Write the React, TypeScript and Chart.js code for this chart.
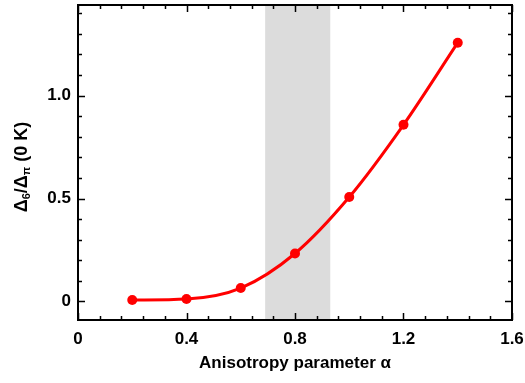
import React, { useEffect, useRef } from "react";
import { Chart, registerables } from "chart.js";
Chart.register(...registerables);

const alphaValues = [0.2, 0.4, 0.6, 0.8, 1.0, 1.2, 1.4];
const gapRatio = [0.007, 0.012, 0.065, 0.233, 0.507, 0.858, 1.257];
const xTickValues = [0, 0.4, 0.8, 1.2, 1.6];
const xTickLabels = ["0", "0.4", "0.8", "1.2", "1.6"];
const yTickValues = [0, 0.5, 1.0];
const yTickLabels = ["0", "0.5", "1.0"];
const xMinorStep = 0.08;
const yMinorStep = 0.1;
const shadeRange = [0.69, 0.93];
const xRange = [0, 1.6];
const yRange = [-0.09, 1.44];

const FONT = "'Liberation Sans', Arial, sans-serif";

const framePlugin = {
  id: "frameTicks",
  beforeDatasetsDraw(chart: any) {
    const { ctx, chartArea, scales } = chart;
    const x = scales.x;
    const x0 = x.getPixelForValue(shadeRange[0]);
    const x1 = x.getPixelForValue(shadeRange[1]);
    ctx.save();
    ctx.fillStyle = "#dcdcdc";
    ctx.fillRect(x0, chartArea.top, x1 - x0, chartArea.bottom - chartArea.top);
    ctx.restore();
  },
  afterDatasetsDraw(chart: any) {
    const { ctx, chartArea, scales } = chart;
    const { left, right, top, bottom } = chartArea;
    const xs = scales.x;
    const ys = scales.y;
    ctx.save();
    ctx.strokeStyle = "#000";
    ctx.lineWidth = 1.5;
    ctx.beginPath();
    const nx = Math.round((xRange[1] - xRange[0]) / xMinorStep);
    for (let i = 0; i <= nx; i++) {
      const v = xRange[0] + i * xMinorStep;
      const px = Math.round(xs.getPixelForValue(v)) + 0.5;
      const major = i % 5 === 0;
      const len = major ? 7 : 4;
      ctx.moveTo(px, bottom);
      ctx.lineTo(px, bottom - len);
      ctx.moveTo(px, top);
      ctx.lineTo(px, top + len);
    }
    const ny = Math.round(1.4 / yMinorStep);
    for (let i = 0; i <= ny; i++) {
      const v = i * yMinorStep;
      const py = Math.round(ys.getPixelForValue(v)) + 0.5;
      const major = i % 5 === 0;
      const len = major ? 7 : 4;
      ctx.moveTo(left, py);
      ctx.lineTo(left + len, py);
      ctx.moveTo(right, py);
      ctx.lineTo(right - len, py);
    }
    ctx.stroke();
    ctx.lineWidth = 2;
    ctx.strokeRect(left, top, right - left, bottom - top);

    ctx.translate(22, 167);
    ctx.rotate(-Math.PI / 2);
    ctx.fillStyle = "#000";
    ctx.textBaseline = "middle";
    ctx.textAlign = "left";
    const big = `bold 18px ${FONT}`;
    const small = `bold 11px ${FONT}`;
    const parts: [string, string, number][] = [
      ["\u0394", big, 0],
      ["6", small, 5],
      ["/\u0394", big, 0],
      ["\u03c0", small, 5],
      [" (0 K)", big, 0],
    ];
    let total = 0;
    for (const [t, f] of parts) {
      ctx.font = f;
      total += ctx.measureText(t).width;
    }
    let cx = -total / 2;
    for (const [t, f, dy] of parts) {
      ctx.font = f;
      ctx.fillText(t, cx, dy);
      cx += ctx.measureText(t).width;
    }
    ctx.restore();
  },
};

export default function App() {
  const ref = useRef<HTMLCanvasElement | null>(null);
  useEffect(() => {
    if (!ref.current) return;
    const chart = new Chart(ref.current, {
      type: "line",
      data: {
        datasets: [
          {
            data: alphaValues.map((a, i) => ({ x: a, y: gapRatio[i] })),
            borderColor: "#ff0000",
            backgroundColor: "#ff0000",
            borderWidth: 3,
            pointRadius: 5,
            pointBorderWidth: 0,
            pointBackgroundColor: "#ff0000",
            cubicInterpolationMode: "monotone",
            fill: false,
          },
        ],
      },
      options: {
        animation: false,
        responsive: false,
        maintainAspectRatio: false,
        layout: { padding: { left: 0, right: 13, top: 1, bottom: 0 } },
        plugins: { legend: { display: false }, tooltip: { enabled: false } },
        scales: {
          x: {
            type: "linear",
            min: xRange[0],
            max: xRange[1],
            grid: { display: false, drawTicks: false },
            border: { display: false },
            afterBuildTicks: (s: any) => {
              s.ticks = xTickValues.map((v) => ({ value: v }));
            },
            afterFit: (s: any) => {
              s.height = 63;
              s.paddingLeft = 0;
              s.paddingRight = 0;
            },
            ticks: {
              autoSkip: false,
              maxRotation: 0,
              padding: 9,
              color: "#000",
              font: { family: FONT, size: 17, weight: "bold" },
              callback: (v: any) => {
                const i = xTickValues.findIndex((t) => Math.abs(t - v) < 1e-6);
                return i >= 0 ? xTickLabels[i] : "";
              },
            },
            title: {
              display: true,
              text: "Anisotropy parameter \u03b1",
              color: "#000",
              font: { family: FONT, size: 17, weight: "bold" },
              padding: { top: 0, bottom: 9 },
            },
          },
          y: {
            type: "linear",
            min: yRange[0],
            max: yRange[1],
            grid: { display: false, drawTicks: false },
            border: { display: false },
            afterBuildTicks: (s: any) => {
              s.ticks = yTickValues.map((v) => ({ value: v }));
            },
            afterFit: (s: any) => {
              s.width = 78;
              s.paddingTop = 0;
              s.paddingBottom = 0;
            },
            ticks: {
              autoSkip: false,
              padding: 7,
              color: "#000",
              font: { family: FONT, size: 17, weight: "bold" },
              callback: (v: any) => {
                const i = yTickValues.findIndex((t) => Math.abs(t - v) < 1e-6);
                return i >= 0 ? yTickLabels[i] : "";
              },
            },
          },
        },
      },
      plugins: [framePlugin],
    } as any);
    return () => chart.destroy();
  }, []);
  return (
    <div style={{ position: "fixed", left: 0, top: 0, width: 525, height: 383, background: "#fff" }}>
      <canvas ref={ref} width={525} height={383} style={{ display: "block" }} />
    </div>
  );
}
